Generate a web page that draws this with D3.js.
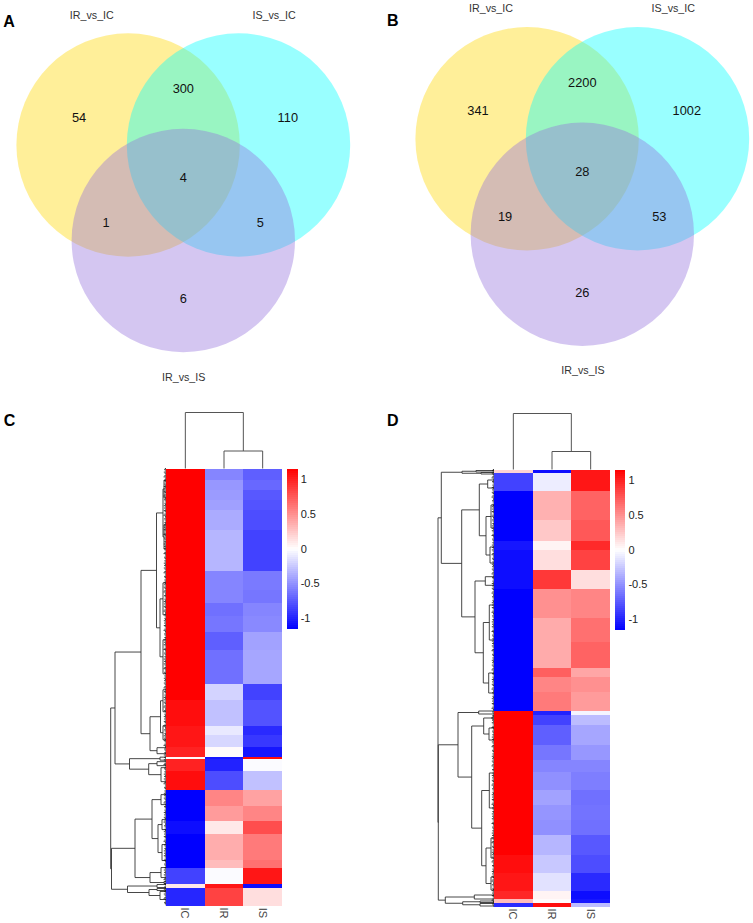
<!DOCTYPE html>
<html><head><meta charset="utf-8">
<script src="https://cdn.jsdelivr.net/npm/d3@7/dist/d3.min.js"></script>
<style>html,body{margin:0;padding:0;background:#fff}svg{display:block}text{font-family:"Liberation Sans",Arial,sans-serif}</style>
</head><body><script>
// ---------- data ----------
const setNames = ["IR_vs_IC","IS_vs_IC","IR_vs_IS"];
const regionIds = ["a","ab","b","abc","ac","bc","c"];
const vennA = [54,300,110,4,1,5,6];
const vennB = [341,2200,1002,28,19,53,26];
const samples = ["IC","IR","IS"];
const legendTicks = [1,0.5,0,-0.5,-1];

const rowsC = [12,10,10,10,20,41,19,13,13,16,18,34,16,26,9,12,10,2,12,19,16,15,13,26,8,16,4,18];
const icC = [1.15,1.15,1.15,1.15,1.15,1.15,1.15,1.15,1.15,1.15,1.15,1.15,1.13,1.12,1.05,1.05,1,0.02,1,1.12,-1.15,-1.15,-1.08,-1.15,-1.15,-0.85,0.1,-0.98];
const irC = [-0.55,-0.47,-0.45,-0.43,-0.38,-0.33,-0.55,-0.55,-0.65,-0.62,-0.72,-0.65,-0.2,-0.28,-0.1,-0.18,0.02,-1.05,-1,-0.8,0.55,0.45,0.1,0.37,0.3,-0.02,1.05,0.85];
const isC = [-0.72,-0.68,-0.75,-0.78,-0.8,-0.85,-0.6,-0.62,-0.55,-0.53,-0.42,-0.4,-0.85,-0.78,-0.95,-0.9,-1.05,1.1,-0.02,-0.28,0.42,0.55,0.8,0.6,0.65,1.05,-1.1,0.15];

const rowsD = [3,18,29,21,9,20,19,29,24,26,9,15,19.5,4,10,20,15,12,18,15,15,15,20,18,18,8,3.5,4.5];
const icD = [0.2,-0.85,-1.15,-1.15,-1.05,-1.12,-1.08,-1.15,-1.15,-1.15,-1.15,-1.15,-1.15,1.15,1.15,1.15,1.15,1.15,1.15,1.15,1.15,1.15,1.15,1.12,1.05,0.98,0.3,-0.95];
const irD = [-1.1,-0.08,0.35,0.25,0.05,0.15,0.9,0.5,0.38,0.38,0.72,0.55,0.6,-1,-0.85,-0.72,-0.62,-0.55,-0.5,-0.42,-0.48,-0.5,-0.33,-0.25,-0.13,0.05,0.02,1.1];
const isD = [1.05,1.05,0.7,0.75,0.95,0.85,0.15,0.55,0.65,0.7,0.4,0.5,0.45,-0.05,-0.3,-0.4,-0.47,-0.55,-0.58,-0.65,-0.63,-0.65,-0.75,-0.8,-0.95,-1.1,-1.05,-0.3];

// row dendrograms: [height, childA, childB]; a bare number is a leaf's rank along the rows
const treeC = [55.3,
  [51,
    [25,
      [9.5,[3,[2,11.5,29.5],[2,56.5,80.5]],[6,[3,114.5,146.5],[3,171.5,205.5]]],
      [16,[5.5,[3,221.5,243.5],[3,257.5,271.5]],[9,279.5,285.5]]],
    [36.5,[6,289,292],[17.3,[9,293.5,297.5],[5,299.5,313.5]]]],
  [54.5,
    [31,
      [14,[5,326.5,336.5],[8,[4,351.5,361.5],[4,376.5,392.5]]],
      [16,[5,399.5,409.5],[2,413.5,415.5]]],
    [38.5,[9,416.5,419.5],[17,[9,420.5,422.5],[6,423.5,431.5]]]]];
const treeD = [56,
  [52.7,
    [32,[18,1,2.5],[13,3,4.5]],
    [32.3,
      [14.7,[6.3,10.5,18.5],[8,[3,35.5,58.5],[4,77.5,93.5]]],
      [19,[8.7,107.2,115.8],[10.7,[4.7,135.5,170.5],[5.3,203.5,223.5]]]]],
  [55.7,
    [36,
      [15.3,241.5,244.5],
      [22.3,
        [10.3,[2,247.5,249.5],[5,258.5,270.5]],
        [12.3,[4.7,303.5,338.5],[8,[3,368.5,388.5],[3,407.5,420.5]]]]],
    [48.7,[19.7,425.5,429.5],[31.3,[14,431.5,433],[14,434,436.5]]]]];
// column dendrogram heights: top join, IR/IS join
const colJoinC = [56,17.5];
const colJoinD = [56,18];
// short twigs crowding the row dendrogram next to the heatmap
const twigs = [2,3.5,1.5,4,2.5,1,3,4.5,2,1.5,3.5,2.5,1,3,2,4];

// ---------- drawing ----------
const svg = d3.select("body").append("svg").attr("width",753).attr("height",923);
const defs = svg.append("defs");
defs.append("filter").attr("id","soft").attr("x","-5%").attr("y","-5%").attr("width","110%").attr("height","110%")
  .append("feGaussianBlur").attr("stdDeviation",0.4);
const maxV = 1.15;
const colour = d3.scaleLinear().domain([-maxV,0,maxV]).range(["#0000ff","#ffffff","#ff0000"]);

const setFill = ["#ffd700","#00ffff","#9370db"];
const R = 111.7, dX = 55.2, dY = 95.5;
const setCentres = [[-dX,0],[dX,0],[0,dY]];
const regionAnchor = {a:[-104.3,-27.8],ab:[0,-56.5],b:[104.5,-27.8],abc:[0,32.4],ac:[-77.2,77.4],bc:[77,77.4],c:[0,153.6]};
function venn(cx,cy,values,labelPos,letter,lx,ly){
  const g = svg.append("g").attr("transform",`translate(${cx},${cy})`);
  g.selectAll("circle").data(setCentres).join("circle")
    .attr("cx",d=>d[0]).attr("cy",d=>d[1]).attr("r",R)
    .attr("fill",(d,i)=>setFill[i]).attr("fill-opacity",0.4);
  g.selectAll("text.num").data(values).join("text").attr("class","num")
    .attr("x",(d,i)=>regionAnchor[regionIds[i]][0]).attr("y",(d,i)=>regionAnchor[regionIds[i]][1])
    .attr("text-anchor","middle").attr("dominant-baseline","central")
    .attr("font-size",12.8).attr("fill","#111").text(d=>d);
  g.selectAll("text.set").data(setNames).join("text").attr("class","set")
    .attr("x",(d,i)=>labelPos[i][0]).attr("y",(d,i)=>labelPos[i][1])
    .attr("text-anchor","middle").attr("dominant-baseline","central")
    .attr("font-size",10.7).attr("fill","#333").text(d=>d);
  panelLetter(letter,lx,ly);
}
function panelLetter(t,x,y){
  svg.append("text").attr("x",x).attr("y",y).attr("dominant-baseline","central")
    .attr("font-size",16).attr("font-weight","bold").attr("fill","#000").text(t);
}
venn(183.3,145,vennA,[[-91.5,-130.3],[90.8,-130.3],[0.4,231.7]],"A",3.3,21);
venn(582.3,138.7,vennB,[[-91.3,-130.4],[91,-130.4],[0.7,231.3]],"B",387,20);

function heat(o){
  const x = d3.scaleBand().domain(samples).range([o.x0,o.x1]);
  const total = d3.sum(o.rows);
  const y = d3.scaleLinear().domain([0,total]).range([o.y0,o.y1]);
  const starts = d3.cumsum([0,...o.rows]);
  const g = svg.append("g");
  const cells = g.append("g").attr("filter","url(#soft)");
  samples.forEach((s,c)=>{
    cells.append("g").selectAll("rect").data(o.vals[c]).join("rect")
      .attr("x",x(s)).attr("width",x.bandwidth())
      .attr("y",(d,i)=>y(starts[i])).attr("height",(d,i)=>y(starts[i+1])-y(starts[i]))
      .attr("fill",d=>colour(d)).attr("shape-rendering","crispEdges");
  });
  // sample labels
  g.selectAll("text.s").data(samples).join("text").attr("class","s")
    .attr("transform",d=>`translate(${x(d)+x.bandwidth()/2},${o.y1+7}) rotate(90)`)
    .attr("text-anchor","middle").attr("dominant-baseline","central")
    .attr("font-size",11).attr("fill","#444").text(d=>d);
  // column dendrogram
  const h = d3.scaleLinear().domain([0,56]).range([o.y0,o.y0-56]);
  const cxs = samples.map(s=>x(s)+x.bandwidth()/2);
  const join2 = (cxs[1]+cxs[2])/2;
  const p = d3.path();
  p.moveTo(cxs[1],h(0)); p.lineTo(cxs[1],h(o.colJoin[1])); p.lineTo(cxs[2],h(o.colJoin[1])); p.lineTo(cxs[2],h(0));
  p.moveTo(cxs[0],h(0)); p.lineTo(cxs[0],h(o.colJoin[0])); p.lineTo(join2,h(o.colJoin[0])); p.lineTo(join2,h(o.colJoin[1]));
  g.append("path").attr("d",p.toString()).attr("fill","none").attr("stroke","#555").attr("stroke-width",1);
  // row dendrogram
  const tx = d3.scaleLinear().domain([0,56]).range([o.x0,o.x0-56]);
  const rp = d3.path();
  (function walk(n){
    if(typeof n==="number") return {r:n,h:0};
    const a = walk(n[1]), b = walk(n[2]);
    rp.moveTo(tx(a.h),y(a.r)); rp.lineTo(tx(n[0]),y(a.r)); rp.lineTo(tx(n[0]),y(b.r)); rp.lineTo(tx(b.h),y(b.r));
    return {r:(a.r+b.r)/2,h:n[0]};
  })(o.tree);
  g.append("path").attr("d",rp.toString()).attr("fill","none").attr("stroke","#333").attr("stroke-width",0.9);
  const ranks = d3.range(0,total,1.2);
  g.append("g").selectAll("line").data(ranks).join("line")
    .attr("x1",tx(0)).attr("x2",(d,i)=>tx(twigs[i%twigs.length]*0.55))
    .attr("y1",d=>y(d)).attr("y2",d=>y(d))
    .attr("stroke","#111").attr("stroke-width",0.8);
  // colour key
  const ky = d3.scaleLinear().domain([-maxV,maxV]).range([o.y0+160,o.y0]);
  const steps = d3.range(-maxV,maxV,2*maxV/80);
  g.append("g").selectAll("rect").data(steps).join("rect")
    .attr("x",o.keyX).attr("width",10.4)
    .attr("y",d=>ky(d+2*maxV/80)).attr("height",2.3)
    .attr("fill",d=>colour(d+maxV/80)).attr("shape-rendering","crispEdges");
  const ax = g.append("g").attr("transform",`translate(${o.keyX+10.4},0)`)
    .call(d3.axisRight(ky).tickValues(legendTicks).tickSize(0).tickPadding(3).tickFormat(String));
  ax.select(".domain").remove();
  ax.selectAll("text").attr("font-size",11).attr("font-family",'"Liberation Sans",Arial,sans-serif').attr("fill","#222");
}
heat({x0:166,x1:282,y0:468.5,y1:906,rows:rowsC,vals:[icC,irC,isC],tree:treeC,colJoin:colJoinC,keyX:287.3});
heat({x0:494,x1:610,y0:469.5,y1:907,rows:rowsD,vals:[icD,irD,isD],tree:treeD,colJoin:colJoinD,keyX:615});
panelLetter("C",3.7,420);
panelLetter("D",387,420);
</script></body></html>
